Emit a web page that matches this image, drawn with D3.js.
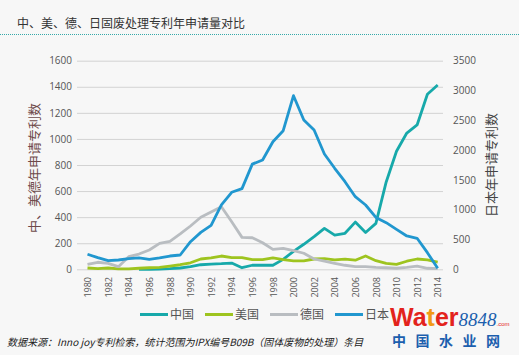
<!DOCTYPE html>
<html><head><meta charset="utf-8">
<script src="https://cdn.jsdelivr.net/npm/d3@7"></script>
<style>
html,body{margin:0;padding:0;background:#f7f7f7;}
svg{display:block;font-family:"Noto Sans CJK SC","Noto Sans",sans-serif;}
</style></head>
<body>
<svg id="c" width="519" height="355"></svg>
<script>
const years = d3.range(1980, 2015);
const china = [null,null,null,null,null,0,0,2,5,10,20,35,40,43,48,12,31,31,31,76,138,192,250,314,262,276,362,282,352,670,905,1045,1107,1343,1414];
const usa = [10,5,10,3,3,8,12,15,25,35,50,79,87,102,89,89,74,74,87,74,64,64,79,82,72,78,70,102,66,46,38,62,79,72,55];
const germany = [38,54,46,20,97,117,148,199,215,271,332,399,440,480,365,245,242,204,153,161,143,123,79,62,46,31,20,20,15,12,8,15,25,8,5];
const japan = [252,195,145,156,178,190,168,190,223,240,463,620,738,1079,1292,1353,1765,1834,2141,2326,2913,2505,2337,1935,1695,1470,1218,1079,870,782,671,559,520,279,17];
const leftTicks = [0,200,400,600,800,1000,1200,1400,1600];
const rightTicks = [0,500,1000,1500,2000,2500,3000,3500];
const xTicks = d3.range(1980, 2015, 2);
const seriesNames = ["中国","美国","德国","日本"];
const colors = ["#17a9aa","#9ec41f","#b9bdc1","#2197cf"];

const svg = d3.select("#c");
const x = d3.scaleLinear().domain([1980,2014]).range([87.5,437.7]);
const yL = d3.scaleLinear().domain([0,1600]).range([269.3,60.7]);
const yR = d3.scaleLinear().domain([0,3500]).range([269.3,60.7]);
const fmt = d3.format("d");

// title
svg.append("text").attr("x",17).attr("y",28).attr("font-size",12).attr("fill","#333")
  .text("中、美、德、日固废处理专利年申请量对比");
svg.append("line").attr("x1",0).attr("x2",519).attr("y1",34.5).attr("y2",34.5)
  .attr("stroke","#35a9a9").attr("stroke-width",1).attr("stroke-dasharray","1,1");

// left axis with gridlines
const gL = svg.append("g").attr("transform","translate(77,0)")
  .call(d3.axisLeft(yL).tickValues(leftTicks).tickSize(-366).tickPadding(5).tickFormat(fmt));
gL.select(".domain").remove();
gL.selectAll(".tick line").attr("stroke","#d3d3d3");
gL.selectAll(".tick text").attr("font-size",10).attr("fill","#555").attr("font-family","'Open Sans',sans-serif");

const gR = svg.append("g").attr("transform","translate(443,0)")
  .call(d3.axisRight(yR).tickValues(rightTicks).tickSize(0).tickPadding(10).tickFormat(fmt));
gR.select(".domain").remove();
gR.selectAll(".tick text").attr("font-size",10).attr("fill","#555").attr("font-family","'Open Sans',sans-serif");

const gX = svg.append("g").attr("transform","translate(0,274)")
  .call(d3.axisBottom(x).tickValues(xTicks).tickSize(0).tickFormat(fmt));
gX.select(".domain").remove();
gX.selectAll(".tick text").attr("font-size",9).attr("fill","#555").attr("font-family","'Open Sans',sans-serif")
  .attr("text-anchor","end").attr("transform","rotate(-90)").attr("x",-3).attr("y",0).attr("dy","0.35em");

// axis titles
svg.append("text").attr("transform","translate(39,168) rotate(-90)").attr("text-anchor","middle")
  .attr("font-size",13).attr("fill","#6e4a4a").text("中、美德年申请专利数");
svg.append("text").attr("transform","translate(496,165) rotate(-90)").attr("text-anchor","middle")
  .attr("font-size",13).attr("fill","#444").text("日本年申请专利数");

// lines
const data = [china, usa, germany, japan];
data.forEach((arr,i)=>{
  const ys = i===3 ? yR : yL;
  const line = d3.line().defined(d=>d!=null).x((d,j)=>x(years[j])).y(d=>ys(d));
  svg.append("path").datum(arr).attr("d",line).attr("fill","none")
    .attr("stroke",colors[i]).attr("stroke-width",2.8).attr("stroke-linejoin","round");
});

// legend
const legX = [140,205,270,335];
seriesNames.forEach((n,i)=>{
  svg.append("line").attr("x1",legX[i]).attr("x2",legX[i]+28).attr("y1",314.5).attr("y2",314.5)
    .attr("stroke",colors[i]).attr("stroke-width",3);
  svg.append("text").attr("x",legX[i]+30).attr("y",319).attr("font-size",12).attr("fill","#555").text(n);
});

// footer
svg.append("text").attr("x",7).attr("y",346).attr("font-size",10).attr("font-style","italic").attr("fill","#222")
  .text("数据来源：Inno joy专利检索，统计范围为IPX编号B09B（固体废物的处理）条目");

// watermark logo
const logo = svg.append("text").attr("x",390).attr("y",326).attr("font-family","Arial,'Liberation Sans',sans-serif")
  .attr("font-weight","bold").attr("font-size",25);
logo.append("tspan").attr("fill","#e3231c").text("Wa");
logo.append("tspan").attr("fill","#f19a16").text("t");
logo.append("tspan").attr("fill","#e3231c").text("er");
logo.append("tspan").attr("fill","#1c5fae").attr("font-style","italic").attr("font-weight","normal")
  .attr("font-family","'Liberation Serif',serif").attr("font-size",19).text("8848");
logo.append("tspan").attr("fill","#e3231c").attr("font-size",6).attr("font-weight","normal").text(".com");
svg.append("text").attr("x",392).attr("y",346).attr("font-size",14).attr("font-weight","bold")
  .attr("fill","#1c5fae").attr("letter-spacing",9.5).text("中国水业网");
</script>
</body></html>
